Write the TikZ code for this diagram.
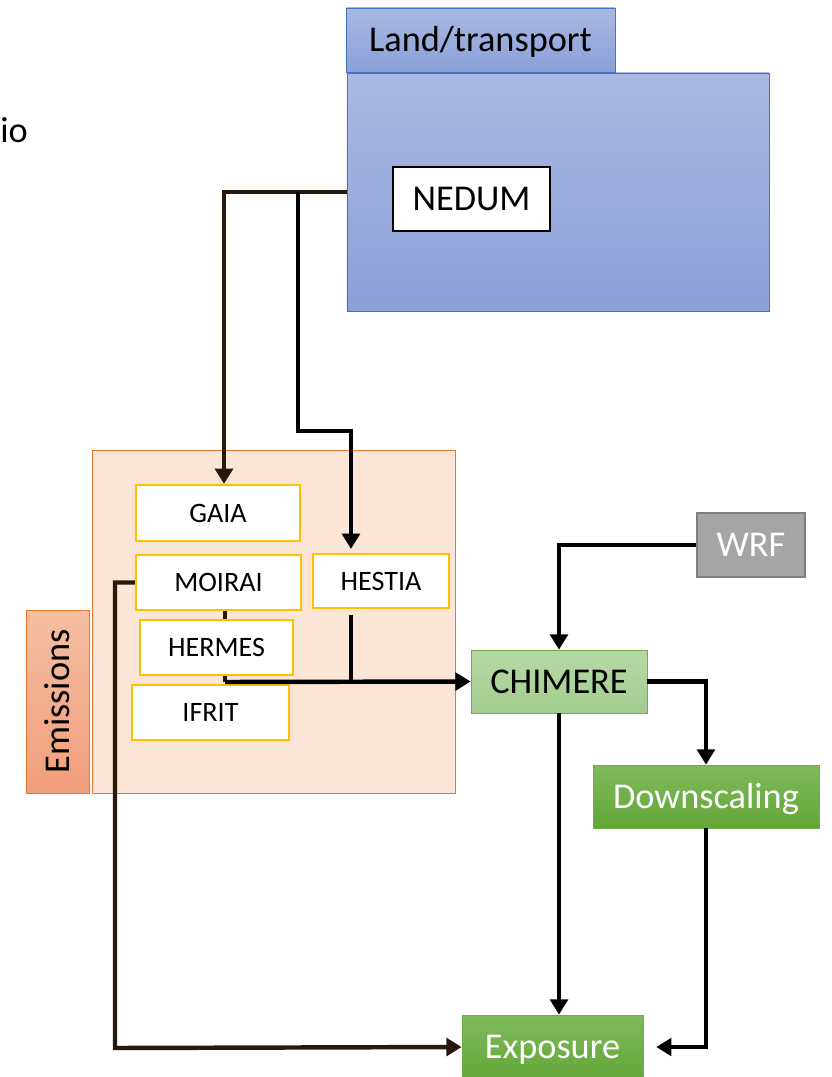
\documentclass[tikz,border=0pt]{standalone}
\usepackage{fontspec}
\setmainfont{Carlito}
\usetikzlibrary{arrows.meta}

\definecolor{landtop}{RGB}{170,185,225}
\definecolor{landbot}{RGB}{137,160,216}
\definecolor{landedge}{RGB}{68,114,196}
\definecolor{emisfill}{RGB}{251,229,214}
\definecolor{emisedge}{RGB}{224,120,50}
\definecolor{tabtop}{RGB}{246,190,162}
\definecolor{tabbot}{RGB}{241,158,124}
\definecolor{gold}{RGB}{255,192,0}
\definecolor{palegreentop}{RGB}{183,217,167}
\definecolor{palegreenbot}{RGB}{162,205,142}
\definecolor{greentop}{RGB}{127,186,92}
\definecolor{greenbot}{RGB}{100,166,56}
\definecolor{greenedge}{RGB}{112,173,71}
\definecolor{wrfgray}{RGB}{165,165,165}
\definecolor{wrfedge}{RGB}{127,127,127}
\definecolor{darkline}{RGB}{40,24,12}

\begin{document}
\begin{tikzpicture}[x=0.03cm, y=-0.03cm,
    font=\fontsize{31}{36}\selectfont,
    box/.style={rectangle, inner sep=0pt, line width=0.6pt, text height=20pt, text depth=0pt},
    landbox/.style={box, draw=landedge, top color=landtop, bottom color=landbot},
    modbox/.style={box, draw=gold, line width=1.8pt, fill=white, font=\fontsize{24}{28}\selectfont, text height=15.5pt},
    greenbox/.style={box, draw=greenedge, top color=greentop, bottom color=greenbot, text=white},
    flow/.style={line width=3.8pt, -{Triangle[width=15pt, length=13pt]}},
    link/.style={line width=3.8pt}]
  \useasboundingbox (0,0) rectangle (831,1077);

  % Scenario label, cut at the left edge
  \node[anchor=base east, inner sep=0pt] (scen) at (28,143) {io};

  % Land use and transport block
  \node[landbox, minimum width=12.66cm, minimum height=7.14cm] (land) at (558,192) {};
  \node[landbox, minimum width=8.07cm, minimum height=1.92cm] (landtab) at (480.5,40) {Land/transport};
  \node[box, draw, line width=1.6pt, fill=white, minimum width=4.71cm, minimum height=1.92cm] (nedum) at (471.5,199) {NEDUM};

  % Emissions block
  \node[box, draw=emisedge, fill=emisfill, minimum width=10.89cm, minimum height=10.29cm] (emis) at (273.5,621.5) {};
  \node[box, draw=emisedge, rotate=90, top color=tabtop, bottom color=tabbot,
        minimum width=5.49cm, minimum height=1.89cm] (emistab) at (57.5,701.5) {Emissions};
  \node[modbox, minimum width=4.92cm, minimum height=1.68cm] (gaia) at (218,513) {GAIA};
  \node[modbox, minimum width=4.95cm, minimum height=1.65cm] (moirai) at (218.5,582.5) {MOIRAI};
  \node[modbox, minimum width=4.08cm, minimum height=1.62cm] (hestia) at (381,581) {HESTIA};
  \node[modbox, minimum width=4.59cm, minimum height=1.65cm] (hermes) at (216.5,647.5) {HERMES};
  \node[modbox, minimum width=4.71cm, minimum height=1.65cm] (ifrit) at (210.5,712.5) {IFRIT};

  % Meteorology, chemistry and exposure
  \node[box, draw=wrfedge, line width=1.2pt, fill=wrfgray, text=white,
        minimum width=3.24cm, minimum height=1.92cm] (wrf) at (751,545) {WRF};
  \node[box, draw=greenedge, top color=palegreentop, bottom color=palegreenbot,
        minimum width=5.28cm, minimum height=1.89cm] (chimere) at (559,681.5) {CHIMERE};
  \node[greenbox, minimum width=6.78cm, minimum height=1.89cm] (downscaling) at (706,796.5) {Downscaling};
  \node[greenbox, minimum width=5.43cm, minimum height=1.92cm] (exposure) at (552.5,1047) {Exposure};

  % Bend points
  \coordinate (fork) at (298,192);
  \coordinate (hbend) at (351,431);
  \coordinate (mix) at (225,682);
  \coordinate (mcorner) at (115,1048);

  % NEDUM feeds GAIA and HESTIA
  \draw[flow, darkline] (land.west) -| ([xshift=0.18cm]gaia.north);
  \draw[flow] (fork) |- (hbend) -- ([yshift=0.12cm]hbend |- hestia.north);

  % Emission models to CHIMERE
  \draw[link, darkline] (moirai.south -| mix) -- (hermes.north -| mix);
  \draw[link, darkline] (hermes.south -| mix) -- (mix);
  \draw[link] ([yshift=-0.18cm]hbend |- hestia.south) -- (hbend |- mix);
  \draw[flow] (mix) -- (chimere.west);

  % MOIRAI straight to exposure
  \draw[flow, darkline] (moirai.west) -| (mcorner) -- (exposure.west);

  % Meteorology and chemistry chain
  \draw[flow] (wrf.west) -| (chimere.north);
  \draw[flow] (chimere.east) -| (downscaling.north);
  \draw[flow] (chimere.south) -- (chimere.south |- exposure.north);
  \draw[flow, shorten >=11pt] (downscaling.south) |- (exposure.east);
\end{tikzpicture}
\end{document}
